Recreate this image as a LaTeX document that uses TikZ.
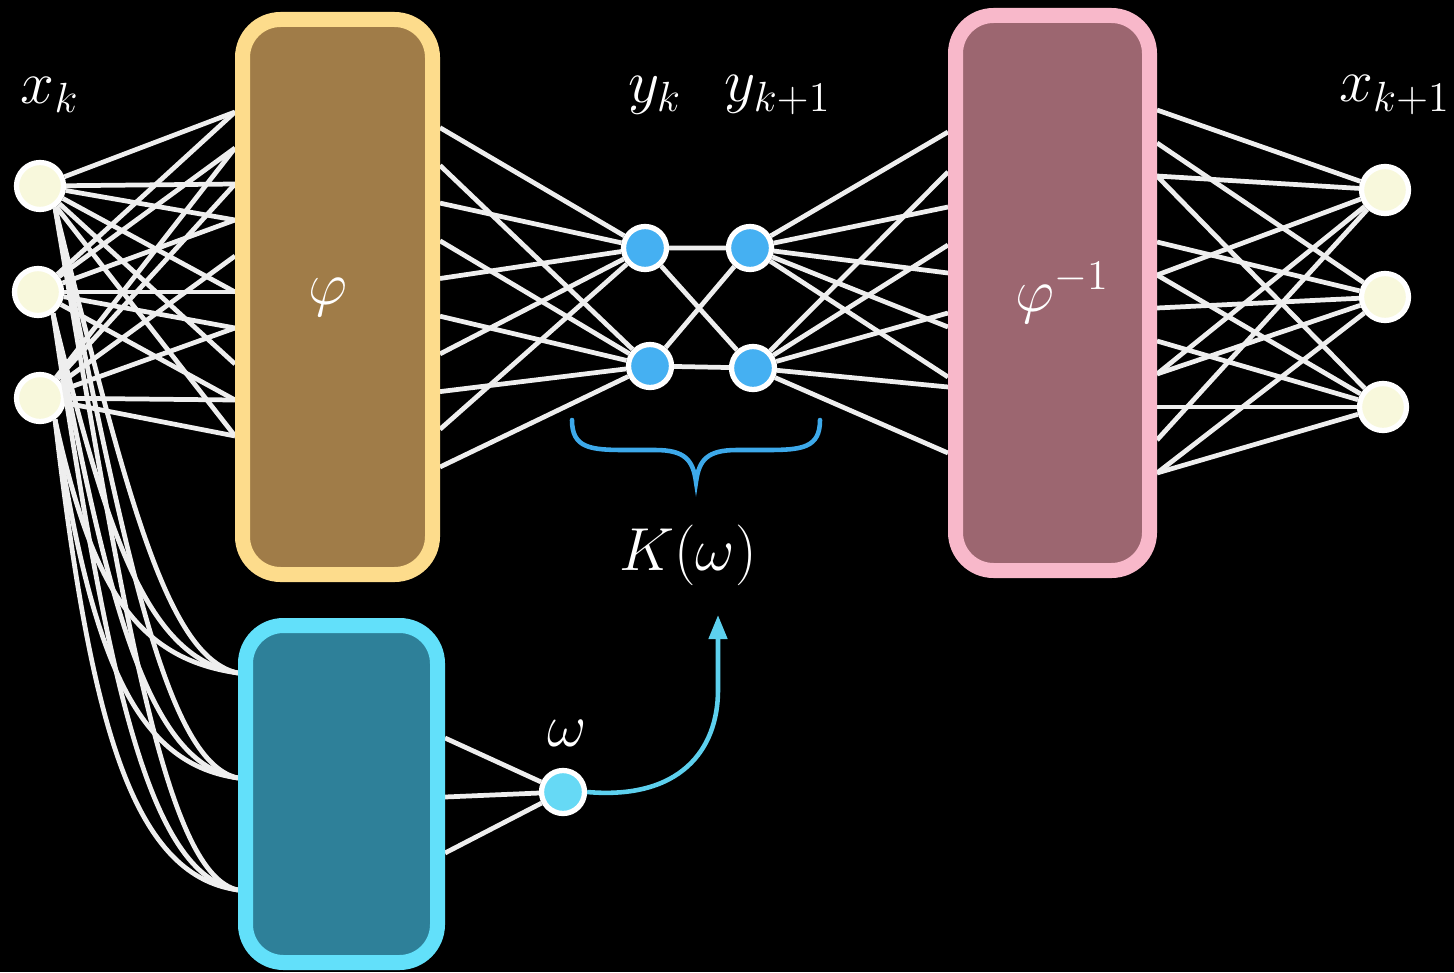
\documentclass[tikz,border=0pt]{standalone}
\usepackage{amsmath}
\usetikzlibrary{arrows.meta,positioning,calc}
\definecolor{phifill}{HTML}{A07C48}
\definecolor{phiedge}{HTML}{FDDC8C}
\definecolor{invfill}{HTML}{9C6670}
\definecolor{invedge}{HTML}{F8B8CA}
\definecolor{netfill}{HTML}{2E8099}
\definecolor{netedge}{HTML}{62E0FA}
\definecolor{inpfill}{HTML}{F8F8DC}
\definecolor{latfill}{HTML}{45B0F2}
\definecolor{omfill}{HTML}{66D9F5}
\definecolor{bracecol}{HTML}{3DA9EA}
\definecolor{arrcol}{HTML}{5DD0EE}
\definecolor{linegray}{HTML}{EEEEEE}
\begin{document}
\begin{tikzpicture}[x=0.1mm,y=-0.1mm,>=Stealth,
  mesh/.style={draw=linegray,line width=1.35pt},
  inode/.style={circle,draw=white,line width=1.5pt,fill=inpfill,minimum size=4.7mm,inner sep=0pt},
  lnode/.style={inode,fill=latfill,minimum size=4.3mm},
  blk/.style={rounded corners=3.8mm,line width=1.5mm,inner sep=0pt},
  lbl/.style={text=white,font=\fontsize{18}{22}\selectfont}]
\fill[black] (0,0) rectangle (1454,972);
\useasboundingbox (0,0) rectangle (1454,972);
% nodes
\node[inode] (x1) at (40,186){};
\node[inode] (x2) at (38,292){};
\node[inode] (x3) at (40,398){};
\node[inode] (o1) at (1385,190){};
\node[inode] (o2) at (1385,297){};
\node[inode] (o3) at (1383,407){};
\node[lnode] (ya) at (645,248){};
\node[lnode] (yb) at (650,366){};
\node[lnode] (za) at (750,248){};
\node[lnode] (zb) at (753,368){};
\node[lnode,fill=omfill] (w) at (563,792){};
% end points on the boxes
\foreach \i in {1,...,10} \coordinate (pl\i) at (235,{76+36*\i});
\foreach \i in {1,...,10} \coordinate (pr\i) at (440,{90+37.7*\i});
\foreach \y [count=\i] in {132,172,207,245,273,313,327,387,377,453} \coordinate (ql\i) at (948,\y);
\foreach \i in {1,...,12} \coordinate (qr\i) at (1157,{77+33*\i});
\coordinate (b1) at (238,673);\coordinate (b2) at (238,778);\coordinate (b3) at (238,890);
\coordinate (c1) at (445,738);\coordinate (c2) at (445,797);\coordinate (c3) at (445,853);
\coordinate (ktip) at (718,615);
% connections
\foreach \a/\l in {x1/{1,3,4,6,8,10},x2/{1,2,4,6,7,9},x3/{2,3,5,7,9,10}}
  \foreach \i in \l \draw[mesh] (\a) -- (pl\i);
\foreach \i in {1,3,5,7,9} \draw[mesh] (pr\i) -- (ya);
\foreach \i in {2,4,6,8,10} \draw[mesh] (pr\i) -- (yb);
\draw[mesh] (ya) -- (za) (yb) -- (zb) (ya) -- (zb) (yb) -- (za);
\foreach \i in {1,3,5,7,9} \draw[mesh] (za) -- (ql\i);
\foreach \i in {2,4,6,8,10} \draw[mesh] (zb) -- (ql\i);
\foreach \a/\l in {o1/{1,3,6,9,11},o2/{2,5,7,9,12},o3/{3,6,8,10,12}}
  \foreach \i in \l \draw[mesh] (qr\i) -- (\a);
\foreach \a/\vx/\yj in {x1/128/186,x2/108/292,x3/90/398}
  \foreach \b/\by in {b1/673,b2/778,b3/890}
    \draw[mesh] (\a.-55) .. controls (\vx,{\yj+0.65*(\by-\yj)}) and ({\vx+40},{\by-15}) .. (\b);
\foreach \c in {c1,c2,c3} \draw[mesh] (\c) -- (w);
% boxes
\node[blk,draw=phiedge,fill=phifill,minimum width=19mm,minimum height=55.5mm,lbl] (phi) at (337.5,297){$\varphi$\hspace*{2mm}};
\node[blk,draw=invedge,fill=invfill,minimum width=19.4mm,minimum height=55.5mm,lbl] (phiinv) at (1052.5,293){\hspace*{2mm}$\varphi^{-1}$};
\node[blk,draw=netedge,fill=netfill,minimum width=19.2mm,minimum height=33.7mm] (net) at (341.5,794){};
% K(omega)
\draw[bracecol,line width=1.3pt,line cap=round] (572,420) .. controls (572,448) and (590,450) .. (625,450) -- (655,450)
  .. controls (685,450) and (693,460) .. (696,482) .. controls (699,460) and (707,450) .. (737,450) -- (767,450)
  .. controls (802,450) and (820,448) .. (820,420);
\draw[arrcol,line width=1.3pt,-{Triangle[length=2.4mm,width=1.8mm]}] (w.east) .. controls (680,800) and (718,750) .. (718,690) -- (ktip);
% labels
\node[lbl] (lxk) at (50,95){$x_k$};
\node[lbl] (lyk) at (655,95){$y_k$};
\node[lbl] (lyk1) at (778,95){$y_{k+1}$};
\node[lbl] (lxk1) at (1395,95){$x_{k+1}$};
\node[lbl] (lK) at (688,555){$K(\omega)$};
\node[lbl] (lw) at (567,733){$\omega$};
\end{tikzpicture}
\end{document}
